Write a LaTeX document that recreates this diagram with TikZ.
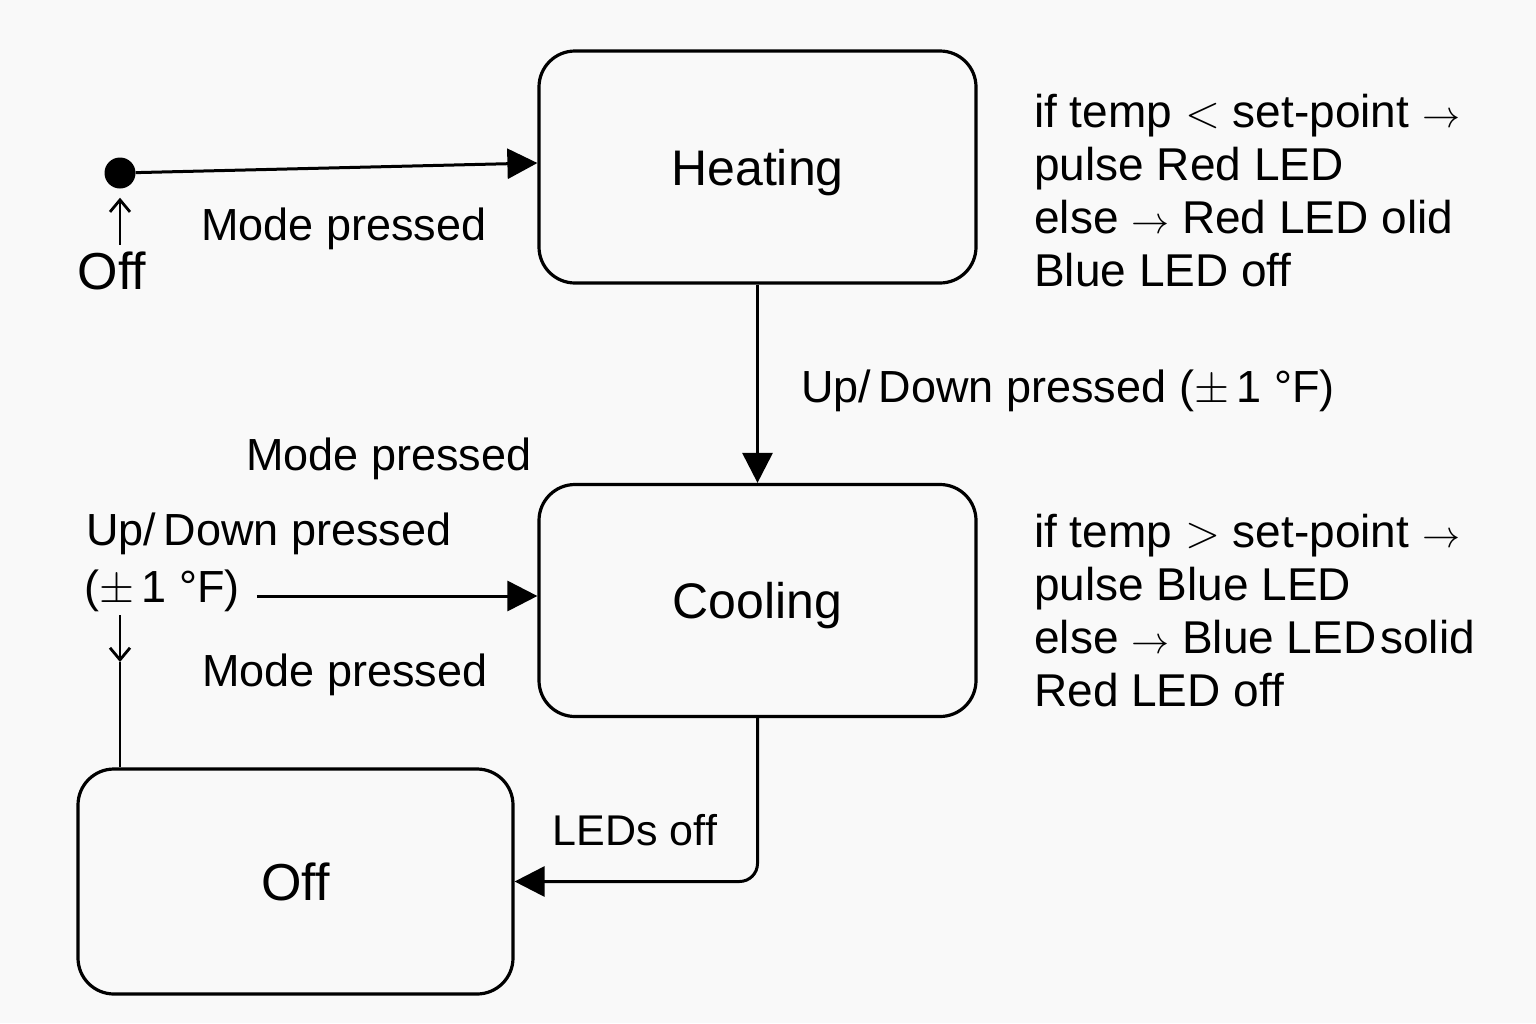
\RequirePackage{fix-cm}
\documentclass[tikz,border=0pt]{standalone}
\usepackage{fontspec}
\setmainfont{Liberation Sans}
\usetikzlibrary{arrows.meta}
\definecolor{bgcol}{HTML}{F9F9F9}
\newcommand{\smallarr}{{\fontsize{38}{53}\selectfont$\rightarrow$}}
\begin{document}
\begin{tikzpicture}[x=1pt,y=-1pt,
  state/.style={draw, line width=3.2pt, rounded corners=36pt, minimum width=437pt, minimum height=232pt, text depth=0pt, font=\fontsize{50}{60}\selectfont},
  lbl/.style={inner sep=0pt, font=\fontsize{45}{53}\selectfont},
  arr/.style={line width=3pt, -{Triangle[length=30pt,width=30pt]}},
  thinarr/.style={line width=2.8pt, -{Straight Barb[length=12pt,width=20pt]}},
  plainline/.style={line width=2.8pt}
]
\fill[bgcol] (0,0) rectangle (1536,1023);
\useasboundingbox (0,0) rectangle (1536,1023);

% states
\node[state] (heating) at (757.5,167) {Heating};
\node[state] (cooling) at (757.5,600.5) {Cooling};
\node[state, minimum width=435pt, minimum height=225pt, font=\fontsize{52}{60}\selectfont] (offbox) at (295.5,881.5) {Off};

% initial dot
\node[circle, fill, inner sep=0pt, minimum size=31pt] (init) at (120,173) {};

% labels
\node[lbl] (m1) at (344,229) {Mode pressed};
\node[lbl, font=\fontsize{52}{60}\selectfont] (offlbl) at (112,271) {Off};
\node[lbl] (ud1) at (1068,391) {Up/\,Down pressed ($\pm$\,1 °F)};
\node[lbl] (m2) at (389,459) {Mode pressed};
\node[lbl] (ud2a) at (269,534) {Up/\,Down pressed};
\node[lbl] (ud2b) at (162,591) {($\pm$\,1 °F)};
\node[lbl] (m3) at (345,675) {Mode pressed};
\node[lbl, font=\fontsize{43}{50}\selectfont] (leds) at (635,830) {LEDs off};

\node[lbl, font=\fontsize{46}{53}\selectfont, align=left, anchor=north west] (heatact) at (1034,94)
  {if temp $<$ set-point \smallarr\\ pulse Red LED\\ else \smallarr{} Red LED olid\\ Blue LED off};
\node[lbl, font=\fontsize{46}{53}\selectfont, align=left, anchor=north west] (coolact) at (1034,514)
  {if temp $>$ set-point \smallarr\\ pulse Blue LED\\ else \smallarr{} Blue LED\hspace{4pt}solid\\ Red LED off};

% connectors
\draw[arr] (init) -- ([yshift=4pt]heating.west);
\draw[thinarr, shorten <=7pt, shorten >=9pt] (offlbl.north -| init.south) -- (init.south);
\draw[arr] (heating) -- (cooling);
\draw[arr] ([xshift=17pt,yshift=-5pt]ud2b.east) -- ([yshift=4.5pt]cooling.west);
\coordinate (dtop) at (120,615);
\coordinate (dmid) at (120,662);
\draw[thinarr] (dtop) -- (dmid);
\draw[plainline] (dmid) -- (dmid |- offbox.north);
\draw[arr, rounded corners=18pt] (cooling.south) |- (offbox.east);
\end{tikzpicture}
\end{document}
